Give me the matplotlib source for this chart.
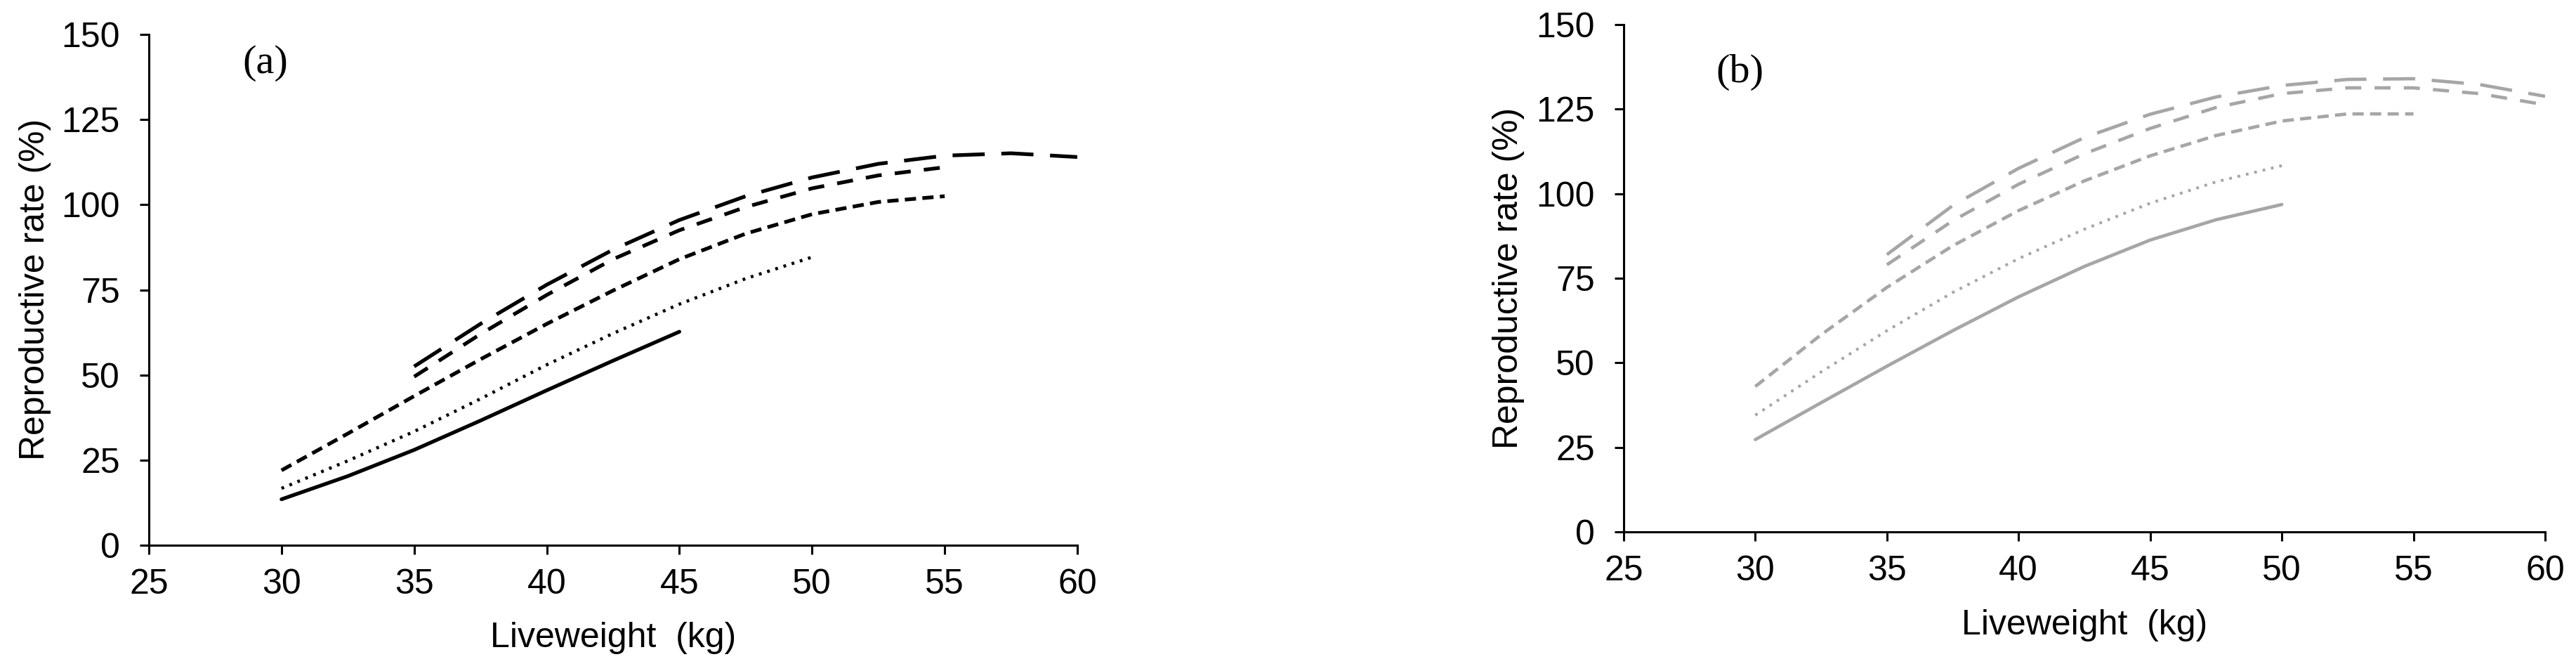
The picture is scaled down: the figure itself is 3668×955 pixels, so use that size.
import matplotlib
matplotlib.use("Agg")
import matplotlib.pyplot as plt

plt.rcParams['font.family'] = ['Liberation Sans', 'DejaVu Sans']
plt.rcParams['lines.scale_dashes'] = False

# ---------------- data ----------------
# Panel (a)
a_x_solid = [30, 32.5, 35, 37.5, 40, 42.5, 45]
a_y_solid = [13.5, 20.3, 28.0, 36.6, 45.5, 54.2, 62.7]

a_x_dot = [30, 32.5, 35, 37.5, 40, 42.5, 45, 47.5, 50]
a_y_dot = [16.7, 24.8, 33.4, 43.0, 53.0, 62.2, 70.8, 78.3, 84.6]

a_x_short = [30, 32.5, 35, 37.5, 40, 42.5, 45, 47.5, 50, 52.5, 55]
a_y_short = [22.0, 32.8, 43.8, 54.6, 65.0, 74.8, 84.0, 91.5, 97.2, 100.8, 102.5]

a_x_med = [35, 37.5, 40, 42.5, 45, 47.5, 50, 52.5, 55]
a_y_med = [49.5, 62.0, 73.5, 84.0, 92.5, 99.3, 104.8, 108.6, 111.0]

a_x_long = [35, 37.5, 40, 42.5, 45, 47.5, 50, 52.5, 55, 57.5, 60]
a_y_long = [52.5, 65.0, 76.5, 86.8, 95.5, 102.5, 108.0, 112.0, 114.4, 115.1, 114.0]

# Panel (b)
b_x_solid = [30, 32.5, 35, 37.5, 40, 42.5, 45, 47.5, 50]
b_y_solid = [27.3, 38.2, 49.0, 59.5, 69.5, 78.5, 86.3, 92.3, 96.8]

b_x_dot = [30, 32.5, 35, 37.5, 40, 42.5, 45, 47.5, 50]
b_y_dot = [34.5, 47.3, 59.5, 70.8, 80.8, 89.5, 97.2, 103.5, 108.3]

b_x_short = [30, 32.5, 35, 37.5, 40, 42.5, 45, 47.5, 50, 52.5, 55]
b_y_short = [43.0, 58.3, 72.3, 84.6, 95.0, 103.8, 111.2, 117.2, 121.5, 123.6, 123.6]

b_x_med = [35, 37.5, 40, 42.5, 45, 47.5, 50, 52.5, 55, 57.5, 60]
b_y_med = [79.0, 92.0, 102.8, 111.8, 119.3, 125.5, 129.6, 131.3, 131.3, 129.6, 126.3]

b_x_long = [35, 37.5, 40, 42.5, 45, 47.5, 50, 52.5, 55, 57.5, 60]
b_y_long = [82.0, 96.5, 107.5, 116.6, 123.5, 128.6, 132.0, 133.8, 134.0, 132.3, 128.8]

x_ticks = [25, 30, 35, 40, 45, 50, 55, 60]
y_ticks = [0, 25, 50, 75, 100, 125, 150]
panel_labels = ["(a)", "(b)"]
x_label = "Liveweight  (kg)"
y_label = "Reproductive rate (%)"

# ---------------- figure ----------------
fig = plt.figure(figsize=(36.68, 9.55), dpi=100)
ax_a = fig.add_axes([0.0578, 0.1874, 0.3604, 0.7613])
ax_b = fig.add_axes([0.6303, 0.2073, 0.3577, 0.7560])

def style_axes(ax):
    ax.set_xlim(25, 60)
    ax.set_ylim(0, 150)
    ax.set_xticks(x_ticks)
    ax.set_yticks(y_ticks)
    for s in ['top', 'right']:
        ax.spines[s].set_visible(False)
    for s in ['left', 'bottom']:
        ax.spines[s].set_linewidth(2.2)
        ax.spines[s].set_color('black')
    ax.tick_params(axis='both', direction='out', length=9.5, width=2.2,
                   labelsize=36, colors='black')
    ax.tick_params(axis='x', pad=14)
    ax.tick_params(axis='y', pad=20)
    ax.patch.set_alpha(0)

def draw(ax, color, lw, data):
    (xs, ys), (xd, yd), (xsh, ysh), (xm, ym), (xl, yl) = data
    ax.plot(xs, ys, color=color, lw=lw, solid_capstyle='round',
            solid_joinstyle='round')
    ax.plot(xd, yd, color=color, lw=lw * 0.85, dashes=(2.8, 6.0),
            dash_capstyle='butt')
    ax.plot(xsh, ysh, color=color, lw=lw, dashes=(11.5, 6.5),
            dash_capstyle='butt')
    ax.plot(xm, ym, color=color, lw=lw, dashes=(16.5, 13.5),
            dash_capstyle='butt')
    ax.plot(xl, yl, color=color, lw=lw, dashes=(33, 17),
            dash_capstyle='butt')

draw(ax_a, 'black', 3.8,
     [(a_x_solid, a_y_solid), (a_x_dot, a_y_dot), (a_x_short, a_y_short),
      (a_x_med, a_y_med), (a_x_long, a_y_long)])
draw(ax_b, '#a6a6a6', 3.4,
     [(b_x_solid, b_y_solid), (b_x_dot, b_y_dot), (b_x_short, b_y_short),
      (b_x_med, b_y_med), (b_x_long, b_y_long)])

for ax in (ax_a, ax_b):
    style_axes(ax)

ax_a.text(0.1256, 0.9436, panel_labels[0], transform=ax_a.transAxes,
          ha='center', va='center', fontsize=42, family=['Liberation Serif'])
ax_b.text(0.1265, 0.906, panel_labels[1], transform=ax_b.transAxes,
          ha='center', va='center', fontsize=42, family=['Liberation Serif'])

fig.text(0.01363, 0.5686, y_label, rotation=90, ha='center', va='center', fontsize=36)
fig.text(0.5856, 0.5853, y_label, rotation=90, ha='center', va='center', fontsize=36)
fig.text(0.238, 0.0356, x_label, ha='center', va='baseline', fontsize=36)
fig.text(0.8092, 0.0545, x_label, ha='center', va='baseline', fontsize=36)

fig.savefig("out.png", dpi=100, facecolor='white')
